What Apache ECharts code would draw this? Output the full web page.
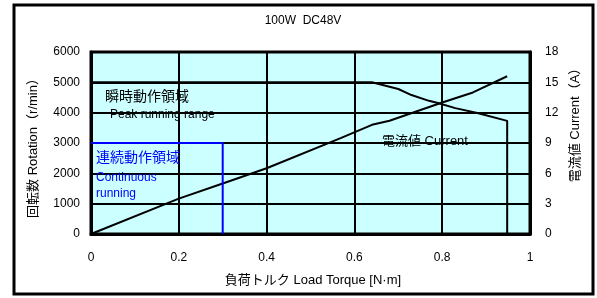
<!DOCTYPE html>
<html>
<head>
<meta charset="utf-8">
<script src="https://cdn.jsdelivr.net/npm/echarts@6/dist/echarts.min.js"></script>
<style>
html, body { margin: 0; padding: 0; background: #fff; }
#chart { width: 597px; height: 298px; }
</style>
</head>
<body>
<div id="chart"></div>
<script>
// 負荷トルク [N·m] vs 回転数 / 電流値
let speedTorque = [0, 0.64, 0.70, 0.73, 0.77, 0.79, 0.83, 0.88, 0.948, 0.948];
let speedValues = [5000, 5000, 4780, 4580, 4390, 4320, 4150, 3990, 3730, 0];
let currentTorque = [0, 0.2, 0.3, 0.4, 0.57, 0.64, 0.68, 0.8, 0.87, 0.948];
let currentValues = [0, 3.5, 5.0, 6.5, 9.5, 10.8, 11.2, 13.0, 14.0, 15.6];
let contTorque = [0, 0.3, 0.3];
let contSpeed = [3000, 3000, 0];
let xTicks = [0, 0.2, 0.4, 0.6, 0.8, 1];

let font = '"Liberation Sans", "Noto Sans CJK JP", sans-serif';
let myChart = echarts.init(document.getElementById('chart'));

function pairs(xs, ys) {
	let out = [];
	for (let i = 0; i < xs.length; i++) out.push([xs[i], ys[i]]);
	return out;
}

let option = {
	animation: false,
	textStyle: { fontFamily: font },
	grid: {
		left: 91, right: 67, top: 52, bottom: 64,
		show: true,
		backgroundColor: '#ccffff',
		borderColor: '#000',
		borderWidth: 3
	},
	xAxis: {
		type: 'value', min: 0, max: 1, interval: 0.2,
		axisLine: { lineStyle: { color: '#000', width: 3 } },
		axisTick: { show: false },
		axisLabel: {
			color: '#000', fontSize: 12, margin: 18,
			formatter: function(v) { return xTicks.indexOf(Math.round(v * 10) / 10) >= 0 ? String(Math.round(v * 10) / 10) : ''; }
		},
		splitLine: { lineStyle: { color: '#000', width: 2 } }
	},
	yAxis: [{
		type: 'value', min: 0, max: 6000, interval: 1000,
		axisLine: { show: true, lineStyle: { color: '#000', width: 3 } },
		axisTick: { show: false },
		axisLabel: { color: '#000', fontSize: 12, margin: 11, formatter: function(v) { return String(v); } },
		splitLine: { lineStyle: { color: '#000', width: 2 } }
	}, {
		type: 'value', min: 0, max: 18, interval: 3,
		position: 'right',
		axisLine: { show: true, lineStyle: { color: '#000', width: 3 } },
		axisTick: { show: false },
		axisLabel: { color: '#000', fontSize: 12, margin: 15, formatter: function(v) { return String(v); } },
		splitLine: { show: false }
	}],
	series: [{
		name: 'speed', type: 'line', showSymbol: false, silent: true,
		lineStyle: { color: '#000', width: 2 },
		data: pairs(speedTorque, speedValues)
	}, {
		name: 'current', type: 'line', showSymbol: false, silent: true, yAxisIndex: 1,
		lineStyle: { color: '#000', width: 2 },
		data: pairs(currentTorque, currentValues)
	}, {
		name: 'continuous', type: 'line', showSymbol: false, silent: true,
		lineStyle: { color: '#0000ff', width: 2 },
		data: pairs(contTorque, contSpeed)
	}],
	graphic: [
		{ type: 'rect', shape: { x: 14, y: 5, width: 579, height: 289 }, style: { fill: null, stroke: '#000', lineWidth: 3 } },
		{ type: 'text', x: 303, y: 21, style: { text: '100W  DC48V', font: '12px ' + font, fill: '#000', textAlign: 'center', textVerticalAlign: 'middle' } },
		{ type: 'text', x: 33, y: 145, rotation: Math.PI / 2, style: { text: '回転数 Rotation（r/min）', font: '13px ' + font, fill: '#000', textAlign: 'center', textVerticalAlign: 'middle' } },
		{ type: 'text', x: 575, y: 122, rotation: Math.PI / 2, style: { text: '電流値 Current（A）', font: '13px ' + font, fill: '#000', textAlign: 'center', textVerticalAlign: 'middle' } },
		{ type: 'text', x: 313, y: 280, style: { text: '負荷トルク Load Torque [N·m]', font: '13px ' + font, fill: '#000', textAlign: 'center', textVerticalAlign: 'middle' } },
		{ type: 'text', x: 105, y: 97, z: 10, style: { text: '瞬時動作領域', font: '14px ' + font, fill: '#000', textVerticalAlign: 'middle' } },
		{ type: 'text', x: 110, y: 115, z: 10, style: { text: 'Peak running range', font: '12px ' + font, fill: '#000', textVerticalAlign: 'middle' } },
		{ type: 'text', x: 382, y: 141, z: 10, style: { text: '電流値 Current', font: '13px ' + font, fill: '#000', textVerticalAlign: 'middle' } },
		{ type: 'text', x: 96, y: 158, z: 10, style: { text: '連続動作領域', font: '14px ' + font, fill: '#0000ff', textVerticalAlign: 'middle' } },
		{ type: 'text', x: 96, y: 178, z: 10, style: { text: 'Continuous', font: '12px ' + font, fill: '#0000ff', textVerticalAlign: 'middle' } },
		{ type: 'text', x: 96, y: 194, z: 10, style: { text: 'running', font: '12px ' + font, fill: '#0000ff', textVerticalAlign: 'middle' } }
	]
};
myChart.setOption(option);
</script>
</body>
</html>
